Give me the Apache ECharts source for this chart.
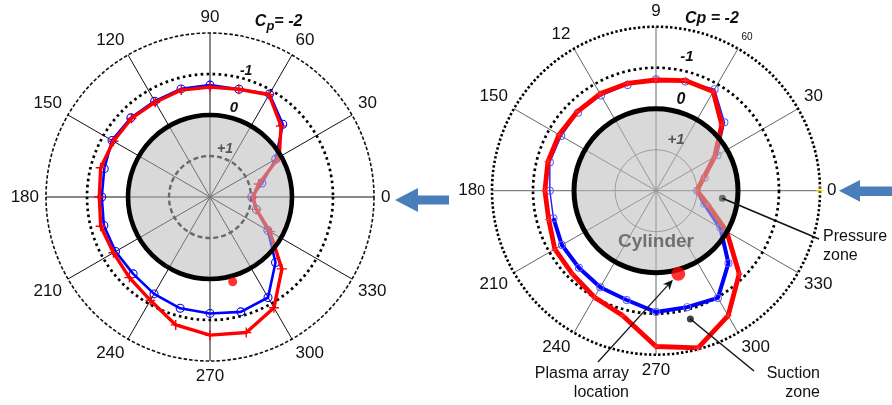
<!DOCTYPE html>
<html>
<head>
<meta charset="utf-8">
<script src="https://cdn.jsdelivr.net/npm/echarts@6/dist/echarts.min.js"></script>
<style>
  html, body { margin: 0; padding: 0; background: #fff; }
  #chart { width: 892px; height: 405px; }
</style>
</head>
<body>
<div id="chart"></div>
<script>
// Pressure taps around the cylinder, degrees counter-clockwise from the windward point
const stationAngles = [0, 15, 30, 45, 60, 75, 90, 105, 120, 135, 150, 165,
                       180, 195, 210, 225, 240, 255, 270, 285, 300, 315, 330, 345];

// Left panel: pressure coefficient Cp at each tap
const leftBlueCp = [0.98, 0.69, 0.15, -0.51, -0.90, -0.72, -0.73, -0.73, -0.70, -0.73, -0.76, -0.67,
                    -0.64, -0.68, -0.66, -0.65, -0.73, -0.81, -0.84, -0.90, -0.83, -0.26, 0.37, 0.83];
const leftRedCp  = [0.95, 0.77, 0.05, -0.45, -0.88, -0.72, -0.68, -0.70, -0.67, -0.71, -0.72, -0.76,
                    -0.70, -0.76, -0.72, -0.78, -0.91, -1.23, -1.37, -1.42, -1.12, -0.48, 0.31, 0.83];

// Right panel: pressure coefficient Cp at each tap
const rightBlueCp = [1.00, 0.77, 0.27, -0.36, -0.86, -0.76, -0.72, -0.67, -0.68, -0.69, -0.67, -0.68,
                     -0.59, -0.59, -0.65, -0.66, -0.72, -0.76, -0.96, -0.94, -1.02, -0.50, 0.19, 0.78];
const rightRedCp  = [1.00, 0.80, 0.35, -0.27, -0.79, -0.78, -0.70, -0.71, -0.73, -0.72, -0.73, -0.73,
                     -0.71, -0.71, -0.85, -0.88, -1.00, -1.15, -1.80, -1.97, -1.52, -0.87, 0.01, 0.69];
// Taps from which the right-panel blue curve is drawn heavy
const rightBlueHeavyFrom = 195;

// Angular tick labels
const angleTicks = [0, 30, 60, 90, 120, 150, 180, 210, 240, 270, 300, 330];
const leftTickLabels  = ['0', '30', '60', '90', '120', '150', '180', '210', '240', '270', '300', '330'];
const rightTickLabels = ['0', '30', '60', '9', '12', '150', '180', '210', '240', '270', '300', '330'];

// Cp rings and their labels
const cpRingLevels = [-2, -1, 0, 1];
const leftRingLabels  = ['C_p= -2', '-1', '0', '+1'];
const rightRingLabels = ['Cp = -2', '-1', '0', '+1'];

// Plasma actuator location [Cp, angle] on each panel
const leftPlasma  = [-0.14, 285];
const rightPlasma = [-0.10, 285];

// Right-panel callouts: anchor [Cp, angle]
const pressureZoneAnchor = [0.37, 353.5];
const suctionZoneAnchor  = [-1.24, 285];

const FONT = '"Liberation Sans", Arial, sans-serif';
const chart = echarts.init(document.getElementById('chart'), null, { renderer: 'canvas' });

function loop(values) {
  const pts = stationAngles.map((a, i) => [values[i], a]);
  pts.push({ value: [values[0], 360], symbol: 'none' });
  return pts;
}

function heavyPart(values, from) {
  const pts = [];
  stationAngles.forEach((a, i) => { if (a >= from) pts.push([values[i], a]); });
  pts.push([values[0], 360]);
  return pts;
}

const plusPath = 'path://M-0.14,-1H0.14V-0.14H1V0.14H0.14V1H-0.14V0.14H-1V-0.14H-0.14Z';
// hollow ring marker (outer clockwise, inner counter-clockwise)
const ringPath = 'path://M0,-10A10,10,0,1,1,0,10A10,10,0,1,1,0,-10ZM0,-7.6A7.6,7.6,0,1,0,0,7.6A7.6,7.6,0,1,0,0,-7.6Z';

function angleAxisFor(polarIndex, labels, opts) {
  return {
    polarIndex,
    type: 'value', min: 0, max: 360, interval: 30,
    startAngle: 0, clockwise: false,
    axisLine: { lineStyle: opts.outer },
    axisTick: { show: false },
    splitLine: { lineStyle: { color: opts.spoke, width: 1, type: 'solid' } },
    axisLabel: {
      margin: 7,
      fontFamily: FONT, fontSize: 17, color: '#111',
      formatter: v => {
        const i = angleTicks.indexOf(v);
        if (i < 0) return '';
        return opts.fmt ? opts.fmt(labels[i]) : labels[i];
      },
      rich: {
        s: { fontFamily: FONT, fontSize: 10, color: '#111' },
        n: { fontFamily: FONT, fontSize: 17, color: '#111' },
        m: { fontFamily: FONT, fontSize: 14, color: '#111' }
      }
    }
  };
}

function radiusAxisFor(polarIndex) {
  return {
    polarIndex, type: 'value', min: -2, max: 2, inverse: true,
    axisLine: { show: false }, axisTick: { show: false },
    axisLabel: { show: false }, splitLine: { show: false }
  };
}

// Circles of constant Cp, drawn through the radius scale
function ringSeries(polarIndex, rings, z) {
  return {
    type: 'custom', coordinateSystem: 'polar', polarIndex, z, silent: true,
    data: rings.map(r => [r.level, 0]),
    renderItem(params, api) {
      const ring = rings[params.dataIndex];
      const cs = params.coordSys;
      const p = api.coord([ring.level, 0]);
      const r = Math.hypot(p[0] - cs.cx, p[1] - cs.cy);
      return { type: 'circle', shape: { cx: cs.cx, cy: cs.cy, r }, style: ring.style };
    }
  };
}

// Labels sitting just outside a Cp ring along a given bearing
function ringLabelSeries(polarIndex, items, z) {
  return {
    type: 'custom', coordinateSystem: 'polar', polarIndex, z, silent: true,
    data: items.map(it => [it.level, it.angle]),
    renderItem(params, api) {
      const it = items[params.dataIndex];
      const cs = params.coordSys;
      const p = api.coord([it.level, it.angle]);
      const dx = p[0] - cs.cx, dy = p[1] - cs.cy;
      const len = Math.hypot(dx, dy) || 1;
      return {
        type: 'text',
        x: p[0] + dx / len * it.offset,
        y: p[1] + dy / len * it.offset,
        style: Object.assign({ text: it.text, align: 'center', verticalAlign: 'middle' }, it.style)
      };
    }
  };
}

function cpLine(polarIndex, values, color, width, symbol, symbolSize, itemStyle, z) {
  return {
    type: 'line', coordinateSystem: 'polar', polarIndex, z,
    data: loop(values), smooth: false, silent: true,
    lineStyle: { color, width },
    symbol, symbolSize, showSymbol: true,
    itemStyle
  };
}

const boldItalic = size => `italic bold ${size}px ${FONT}`;

const leftRings = [
  { level: cpRingLevels[1], style: { fill: 'none', stroke: '#000', lineWidth: 2.7, lineDash: [2.6, 3.4] } },
  { level: cpRingLevels[3], style: { fill: 'none', stroke: '#000', lineWidth: 2.4, lineDash: [5, 3] } }
];
const rightRings = [
  { level: cpRingLevels[1], style: { fill: 'none', stroke: '#000', lineWidth: 2.7, lineDash: [2.6, 3.2] } },
  { level: cpRingLevels[3], style: { fill: 'none', stroke: '#777', lineWidth: 1 } }
];
const diskStyle = { fill: 'rgba(188,188,188,0.56)', stroke: 'none' };
const cylinderStyle = w => ({ fill: 'none', stroke: '#000', lineWidth: w });

const leftLabelItems = [
  { level: cpRingLevels[0], angle: 68.6, offset: 24, text: '{c|C}{s|p}{c|= -2}',
    style: { rich: { c: { font: boldItalic(16), fill: '#111' }, s: { font: boldItalic(13), fill: '#111', padding: [9, 0, 0, 0] } } } },
  { level: cpRingLevels[1], angle: 74, offset: 8, text: leftRingLabels[1], style: { font: boldItalic(14), fill: '#111' } },
  { level: cpRingLevels[2], angle: 75, offset: 10, text: leftRingLabels[2], style: { font: boldItalic(15), fill: '#111' } },
  { level: cpRingLevels[3], angle: 72.5, offset: 9, text: leftRingLabels[3], style: { font: boldItalic(14), fill: '#555' } }
];
const rightLabelItems = [
  { level: cpRingLevels[0], angle: 72, offset: 17, text: rightRingLabels[0], style: { font: boldItalic(16), fill: '#111' } },
  { level: cpRingLevels[1], angle: 77, offset: 14, text: rightRingLabels[1], style: { font: boldItalic(15), fill: '#111' } },
  { level: cpRingLevels[2], angle: 74.6, offset: 12, text: rightRingLabels[2], style: { font: boldItalic(16), fill: '#111' } },
  { level: cpRingLevels[3], angle: 68.7, offset: 14, text: rightRingLabels[3], style: { font: boldItalic(15), fill: '#555' } }
];

// Callout leaders on the right panel: from a polar anchor to a pixel end point
const callouts = [
  { anchor: pressureZoneAnchor, end: [819, 239], arrow: false },
  { anchor: suctionZoneAnchor,  end: [754, 371], arrow: false },
  { anchor: rightPlasma,        end: [598, 362], arrow: true, gap: 8 }
];

const calloutSeries = {
  type: 'custom', coordinateSystem: 'polar', polarIndex: 1, z: 7, silent: true,
  data: callouts.map(c => c.anchor),
  renderItem(params, api) {
    const c = callouts[params.dataIndex];
    const p = api.coord(c.anchor);
    const children = [];
    if (!c.arrow) {
      children.push({ type: 'line', shape: { x1: p[0], y1: p[1], x2: c.end[0], y2: c.end[1] },
                      style: { stroke: '#111', lineWidth: 1.5 } });
    } else {
      const dx = p[0] - c.end[0], dy = p[1] - c.end[1];
      const len = Math.hypot(dx, dy);
      const ux = dx / len, uy = dy / len;
      const tx = p[0] - ux * c.gap, ty = p[1] - uy * c.gap;
      const bx = tx - ux * 10, by = ty - uy * 10;
      const nx = -uy, ny = ux;
      children.push({ type: 'line', shape: { x1: c.end[0], y1: c.end[1], x2: bx + ux * 3, y2: by + uy * 3 },
                      style: { stroke: '#111', lineWidth: 1.2 } });
      children.push({ type: 'polygon', shape: { points: [[tx, ty], [bx + nx * 4.5, by + ny * 4.5], [bx + ux * 3, by + uy * 3], [bx - nx * 4.5, by - ny * 4.5]] },
                      style: { fill: '#111' } });
    }
    return { type: 'group', children };
  }
};

const option = {
  animation: false,
  backgroundColor: '#fff',
  polar: [
    { center: [210, 197], radius: 164 },
    { center: [656, 190.7], radius: 164 }
  ],
  angleAxis: [
    angleAxisFor(0, leftTickLabels, {
      outer: { color: '#111', width: 1.6, type: [3.5, 2] },
      spoke: '#111'
    }),
    angleAxisFor(1, rightTickLabels, {
      outer: { color: '#000', width: 2.6, type: [2.4, 2.2] },
      spoke: '#666',
      fmt: t => t === '60' ? '{s|60}' : (t === '180' ? '{n|18}{m|0}' : t)
    })
  ],
  radiusAxis: [radiusAxisFor(0), radiusAxisFor(1)],
  series: [
    // Left panel
    ringSeries(0, leftRings, 1),
    cpLine(0, leftBlueCp, '#0000ff', 2.6, ringPath, 9, { color: '#0000ff' }, 2),
    cpLine(0, leftRedCp, '#ff0000', 3.4, plusPath, 10, { color: '#ff0000' }, 3),
    ringSeries(0, [{ level: cpRingLevels[2], style: diskStyle }], 4),
    ringSeries(0, [{ level: cpRingLevels[2], style: cylinderStyle(4.6) }], 5),
    {
      type: 'scatter', coordinateSystem: 'polar', polarIndex: 0, z: 6, silent: true,
      data: [leftPlasma], symbol: 'circle', symbolSize: 9, itemStyle: { color: '#ff0000' }
    },
    ringLabelSeries(0, leftLabelItems, 6),

    // Right panel
    ringSeries(1, rightRings, 1),
    cpLine(1, rightBlueCp, '#1a1aff', 1.4, ringPath, 8, { color: '#5a5aff' }, 2),
    {
      type: 'line', coordinateSystem: 'polar', polarIndex: 1, z: 2, silent: true,
      data: heavyPart(rightBlueCp, rightBlueHeavyFrom), symbol: 'none',
      lineStyle: { color: '#0000ff', width: 4 }
    },
    cpLine(1, rightRedCp, '#ff0000', 4.8, plusPath, 7, { color: '#ff3030' }, 3),
    ringSeries(1, [{ level: cpRingLevels[2], style: diskStyle }], 4),
    ringSeries(1, [{ level: cpRingLevels[2], style: cylinderStyle(5) }], 5),
    {
      type: 'scatter', coordinateSystem: 'polar', polarIndex: 1, z: 6, silent: true,
      data: [rightPlasma], symbol: 'circle', symbolSize: 14, itemStyle: { color: '#ff0000' }
    },
    {
      type: 'scatter', coordinateSystem: 'polar', polarIndex: 1, z: 6, silent: true,
      data: [{ value: pressureZoneAnchor, itemStyle: { color: '#555' } },
             { value: suctionZoneAnchor, itemStyle: { color: '#111' } }],
      symbol: 'circle', symbolSize: 7
    },
    {
      type: 'scatter', coordinateSystem: 'polar', polarIndex: 1, z: 6, silent: true,
      data: [[cpRingLevels[0], 0]], symbol: plusPath, symbolSize: 8, itemStyle: { color: '#ffee00' }
    },
    ringLabelSeries(1, rightLabelItems, 6),
    calloutSeries
  ],
  graphic: [
    // free-stream direction arrows
    { type: 'polygon', z: 10, silent: true,
      shape: { points: [[395, 200], [418, 188], [418, 195.5], [449, 195.5], [449, 204.5], [418, 204.5], [418, 212]] },
      style: { fill: '#4a7ebb' } },
    { type: 'polygon', z: 10, silent: true,
      shape: { points: [[839, 190.7], [860, 180], [860, 186.5], [892, 186.5], [892, 196], [860, 196], [860, 201.7]] },
      style: { fill: '#4a7ebb' } },
    { type: 'text', z: 10, silent: true, x: 656, y: 242,
      style: { text: 'Cylinder', font: `bold 19px ${FONT}`, fill: '#707070', align: 'center', verticalAlign: 'middle' } },
    { type: 'text', z: 10, silent: true, x: 823, y: 237,
      style: { text: 'Pressure', font: `16px ${FONT}`, fill: '#111', align: 'left', verticalAlign: 'middle' } },
    { type: 'text', z: 10, silent: true, x: 823, y: 256,
      style: { text: 'zone', font: `16px ${FONT}`, fill: '#111', align: 'left', verticalAlign: 'middle' } },
    { type: 'text', z: 10, silent: true, x: 820, y: 374,
      style: { text: 'Suction', font: `16px ${FONT}`, fill: '#111', align: 'right', verticalAlign: 'middle' } },
    { type: 'text', z: 10, silent: true, x: 820, y: 393,
      style: { text: 'zone', font: `16px ${FONT}`, fill: '#111', align: 'right', verticalAlign: 'middle' } },
    { type: 'text', z: 10, silent: true, x: 629, y: 374,
      style: { text: 'Plasma array', font: `16px ${FONT}`, fill: '#111', align: 'right', verticalAlign: 'middle' } },
    { type: 'text', z: 10, silent: true, x: 629, y: 393,
      style: { text: 'location', font: `16px ${FONT}`, fill: '#111', align: 'right', verticalAlign: 'middle' } }
  ]
};

chart.setOption(option);
</script>
</body>
</html>
